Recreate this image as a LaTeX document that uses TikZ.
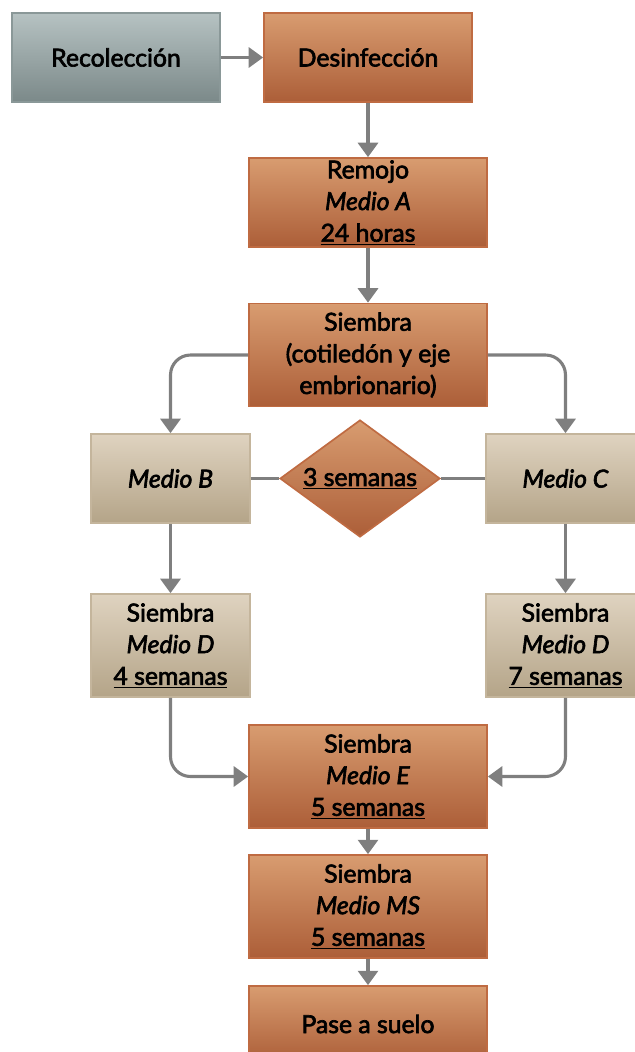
\documentclass[tikz,border=0pt]{standalone}
\usepackage{fontspec}
\setmainfont{Lato}[UprightFeatures={FakeBold=2.6},ItalicFeatures={FakeBold=2.6}]
\usetikzlibrary{shapes.geometric,arrows.meta}

\definecolor{naranjaA}{HTML}{D89C70}
\definecolor{naranjaB}{HTML}{AC5E38}
\definecolor{naranjaC}{HTML}{BF6B42}
\definecolor{grisA}{HTML}{B6C2C2}
\definecolor{grisB}{HTML}{7B8989}
\definecolor{grisC}{HTML}{8A9898}
\definecolor{beigeA}{HTML}{DFD3C0}
\definecolor{beigeB}{HTML}{B4A488}
\definecolor{beigeC}{HTML}{C4B59C}
\definecolor{flecha}{HTML}{7F7F7F}

\begin{document}
\begin{tikzpicture}[x=0.025cm,y=-0.025cm]
		% Estilos
		\tikzstyle{texto}=[align=center,text=black,font=\fontsize{17.6}{22.5}\selectfont,inner sep=0pt]
		\tikzstyle{naranja}=[texto,top color=naranjaA,bottom color=naranjaB,draw=naranjaC,line width=1.2pt]
		\tikzstyle{gris}=[texto,top color=grisA,bottom color=grisB,draw=grisC,line width=1.2pt]
		\tikzstyle{beige}=[texto,top color=beigeA,bottom color=beigeB,draw=beigeC,line width=1.2pt]
		\tikzstyle{rombo}=[naranja,diamond,aspect=1.37,minimum width=4cm,minimum height=2.925cm]
		\tikzstyle{lien}=[->,>={Triangle[width=0.5cm,length=0.36cm]},draw=flecha,line width=2.2pt,rounded corners=0.5cm]
		\tikzstyle{trait}=[-,draw=flecha,line width=2.2pt]
		% Dimensiones
		\def\AnchoGrande{5.95cm}
		\def\AnchoChico{3.975cm}
		\def\AltoA{2.225cm}
		\def\AltoB{2.575cm}
		\useasboundingbox (0,0) rectangle (634,1052);
		% Nodos
		\node[gris,minimum width=5.2cm,minimum height=\AltoA] (Rec) at (116,57.5) {Recolección};
		\node[naranja,minimum width=5.2cm,minimum height=\AltoA] (Des) at (368,57.5) {Desinfección};
		\node[naranja,minimum width=\AnchoGrande,minimum height=\AltoA] (Rem) at (368,202.5) {Remojo\\ \textit{Medio A}\\ \underline{24 horas}};
		\node[naranja,minimum width=\AnchoGrande,minimum height=\AltoB] (Sie) at (368,355) {Siembra\\ (cotiledón y eje\\ embrionario)};
		\node[beige,minimum width=\AnchoChico,minimum height=\AltoA] (MB) at (170.5,478.5) {\textit{Medio B}};
		\node[rombo] (Sem) at (360,478.5) {\underline{3 semanas}};
		\node[beige,minimum width=\AnchoChico,minimum height=\AltoA] (MC) at (565.5,478.5) {\textit{Medio C}};
		\node[beige,minimum width=\AnchoChico,minimum height=\AltoB] (SDi) at (170.5,645.5) {Siembra\\ \textit{Medio D}\\ \underline{4 semanas}};
		\node[beige,minimum width=\AnchoChico,minimum height=\AltoB] (SDd) at (565.5,645.5) {Siembra\\ \textit{Medio D}\\ \underline{7 semanas}};
		\node[naranja,minimum width=\AnchoGrande,minimum height=\AltoB] (SE) at (368,776.5) {Siembra\\ \textit{Medio E}\\ \underline{5 semanas}};
		\node[naranja,minimum width=\AnchoGrande,minimum height=\AltoB] (SMS) at (368,906.5) {Siembra\\ \textit{Medio MS}\\ \underline{5 semanas}};
		\node[naranja,minimum width=\AnchoGrande,minimum height=1.9cm] (Pas) at (368,1024) {Pase a suelo};

		% Flechas
		\draw[lien] (Rec) -- (Des);
		\draw[lien] (Des) -- (Rem);
		\draw[lien] (Rem) -- (Sie);
		\draw[lien] (Sie.west) -| (MB.north);
		\draw[lien] (Sie.east) -| (MC.north);
		\draw[trait] (MB.east) -- (Sem.west);
		\draw[trait] (Sem.east) -- (MC.west);
		\draw[lien] (MB) -- (SDi);
		\draw[lien] (MC) -- (SDd);
		\draw[lien] (SDi.south) |- (SE.west);
		\draw[lien] (SDd.south) |- (SE.east);
		\draw[lien] (SE) -- (SMS);
		\draw[lien] (SMS) -- (Pas);
\end{tikzpicture}
\end{document}
